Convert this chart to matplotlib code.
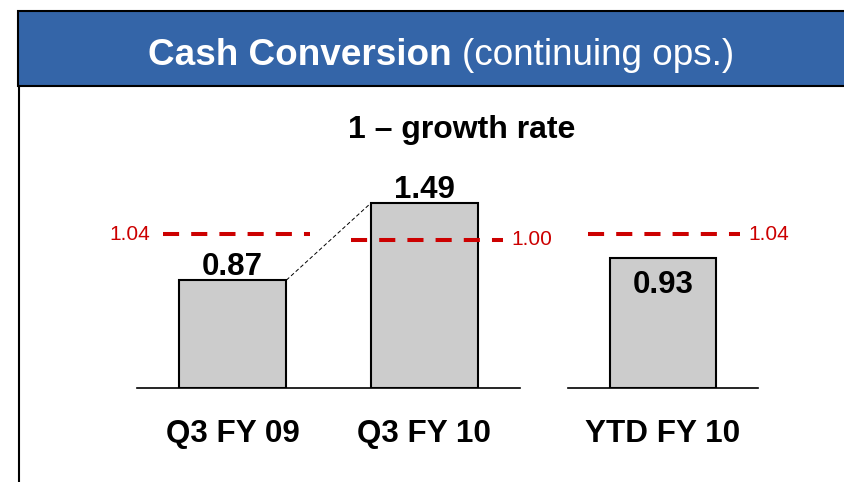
import matplotlib.pyplot as plt
from matplotlib.patches import Rectangle
from matplotlib.lines import Line2D

plt.rcParams['font.family'] = ['Liberation Sans', 'DejaVu Sans']

# data
left_categories = ['Q3 FY 09', 'Q3 FY 10']
left_values = [0.87, 1.49]
right_categories = ['YTD FY 10']
right_values = [0.93]
left_refs = [1.04, 1.00]
right_refs = [1.04]

W, H = 845, 482
BAR_GREY = '#cccccc'
RED = '#cc0000'
BLUE = '#3465a8'


def px_axes(fig, x0, x1, ytop, ybot):
    # axes placed by pixel box (y measured from top)
    return fig.add_axes([x0 / W, (H - ybot) / H, (x1 - x0) / W, (ybot - ytop) / H])


def style(ax):
    for s in ['top', 'left', 'right']:
        ax.spines[s].set_visible(False)
    ax.spines['bottom'].set_linewidth(1.2)
    ax.set_yticks([])
    ax.tick_params(axis='x', length=0, pad=22, labelsize=22.6)
    for lab in ax.get_xticklabels():
        lab.set_fontweight('bold')
    ax.patch.set_alpha(0)


def ref_line(ax, y, x0, x1, label, side):
    ax.plot([x0, x1], [y, y], color=RED, lw=2.9, linestyle=(0, (4.0, 3.0)),
            solid_capstyle='butt', clip_on=False)
    if side == 'left':
        ax.annotate(label, (x0, y), xytext=(-9, 0), textcoords='offset points',
                    ha='right', va='center', color=RED, fontsize=15,
                    annotation_clip=False)
    else:
        ax.annotate(label, (x1, y), xytext=(6, 0), textcoords='offset points',
                    ha='left', va='center', color=RED, fontsize=15,
                    annotation_clip=False)


fig = plt.figure(figsize=(W / 100, H / 100), dpi=100)

# header band and frame
fig.patches.append(Rectangle((18 / W, (H - 86) / H), (W - 18 + 5) / W, 75 / H,
                             transform=fig.transFigure, facecolor=BLUE,
                             edgecolor='black', lw=1.5))
fig.lines.append(Line2D([19 / W, 19 / W], [0, (H - 86) / H],
                        transform=fig.transFigure, color='black', lw=1.5))
fig.text(148 / W, (H - 65) / H, 'Cash Conversion', color='white',
         fontsize=26.6, fontweight='bold', ha='left', va='baseline')
fig.text(462 / W, (H - 65) / H, '(continuing ops.)', color='white',
         fontsize=26.6, ha='left', va='baseline')
fig.text(462 / W, (H - 138) / H, '1 \u2013 growth rate', fontsize=23,
         fontweight='bold', ha='center', va='baseline')

# left group
ax = px_axes(fig, 137, 520, 150, 388)
ax.bar(range(len(left_values)), left_values, width=0.56, color=BAR_GREY,
       edgecolor='black', linewidth=1.5, zorder=2)
ax.set_xlim(-0.5, 1.5)
ax.set_ylim(0, 1.92)
ax.set_xticks(range(len(left_categories)))
ax.set_xticklabels(left_categories)
style(ax)
for i, v in enumerate(left_values):
    ax.annotate(f'{v:.2f}', (i, v), xytext=(0, 4), textcoords='offset points',
                ha='center', va='baseline', fontsize=22.5, fontweight='bold',
                annotation_clip=False)
# thin connector between bar tops
ax.plot([0.28, 0.72], left_values, color='black', lw=0.7,
        linestyle=(0, (4, 2.5)), zorder=3)

axr = ax.twinx()
axr.set_ylim(0, 1.608)
axr.axis('off')
ref_line(axr, left_refs[0], -0.364, 0.404, f'{left_refs[0]:.2f}', 'left')
ref_line(axr, left_refs[1], 0.617, 1.41, f'{left_refs[1]:.2f}', 'right')

# right group
ax2 = px_axes(fig, 568, 758, 150, 388)
ax2.bar(range(len(right_values)), right_values, width=0.56, color=BAR_GREY,
        edgecolor='black', linewidth=1.5, zorder=2)
ax2.set_xlim(-0.5, 0.5)
ax2.set_ylim(0, 1.70)
ax2.set_xticks(range(len(right_categories)))
ax2.set_xticklabels(right_categories)
style(ax2)
for i, v in enumerate(right_values):
    ax2.annotate(f'{v:.2f}', (i, v), xytext=(0, -25), textcoords='offset points',
                 ha='center', va='baseline', fontsize=22.5, fontweight='bold')

axr2 = ax2.twinx()
axr2.set_ylim(0, 1.608)
axr2.axis('off')
ref_line(axr2, right_refs[0], -0.395, 0.405, f'{right_refs[0]:.2f}', 'right')

fig.savefig('out.png', dpi=100)
